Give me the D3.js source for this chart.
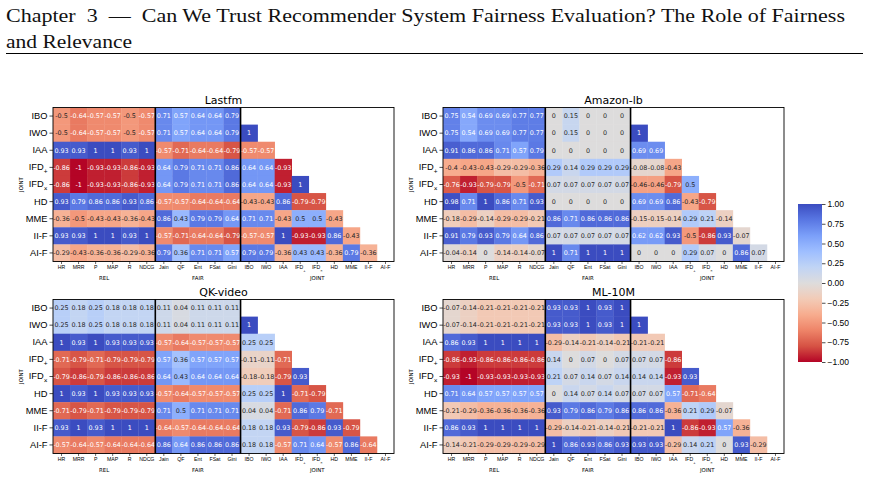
<!DOCTYPE html>
<html lang="en">
<head>
<meta charset="UTF-8">
<title>Correlation heatmaps</title>
<script src="https://cdn.jsdelivr.net/npm/d3@7"></script>
<style>
  body { margin: 0; background: #fff; }
  svg { display: block; font-family: "DejaVu Sans", sans-serif; }
</style>
</head>
<body>
<script>
var relCols = ["HR", "MRR", "P", "MAP", "R", "NDCG"];
var fairCols = ["Jain", "QF", "Ent", "FSat", "Gini"];
var jointCols = ["IBO", "IWO", "IAA", "IFD+", "IFDx", "HD", "MME", "II-F", "AI-F"];
var colorTicks = [1, 0.75, 0.5, 0.25, 0, -0.25, -0.5, -0.75, -1];
// coolwarm samples, reversed so +1 is blue
var coolwarm = ["#3b4cc0", "#5977e3", "#7b9ff9", "#9ebeff", "#c0d4f5", "#dddcdc",
                "#f2cbb7", "#f7ac8e", "#ee8468", "#d65244", "#b40426"];

var lastfmRel = [
  [-0.5, -0.64, -0.57, -0.57, -0.5, -0.57],
  [-0.5, -0.64, -0.57, -0.57, -0.5, -0.57],
  [0.93, 0.93, 1, 1, 0.93, 1],
  [-0.86, -1, -0.93, -0.93, -0.86, -0.93],
  [-0.86, -1, -0.93, -0.93, -0.86, -0.93],
  [0.93, 0.79, 0.86, 0.86, 0.93, 0.86],
  [-0.36, -0.5, -0.43, -0.43, -0.36, -0.43],
  [0.93, 0.93, 1, 1, 0.93, 1],
  [-0.29, -0.43, -0.36, -0.36, -0.29, -0.36]];
var lastfmFair = [
  [0.71, 0.57, 0.64, 0.64, 0.79],
  [0.71, 0.57, 0.64, 0.64, 0.79],
  [-0.57, -0.71, -0.64, -0.64, -0.79],
  [0.64, 0.79, 0.71, 0.71, 0.86],
  [0.64, 0.79, 0.71, 0.71, 0.86],
  [-0.57, -0.57, -0.64, -0.64, -0.64],
  [0.86, 0.43, 0.79, 0.79, 0.64],
  [-0.57, -0.71, -0.64, -0.64, -0.79],
  [0.79, 0.36, 0.71, 0.71, 0.57]];
var lastfmJoint = [
  [],
  [1],
  [-0.57, -0.57],
  [0.64, 0.64, -0.93],
  [0.64, 0.64, -0.93, 1],
  [-0.43, -0.43, 0.86, -0.79, -0.79],
  [0.71, 0.71, -0.43, 0.5, 0.5, -0.43],
  [-0.57, -0.57, 1, -0.93, -0.93, 0.86, -0.43],
  [0.79, 0.79, -0.36, 0.43, 0.43, -0.36, 0.79, -0.36]];

var amazonRel = [
  [0.75, 0.54, 0.69, 0.69, 0.77, 0.77],
  [0.75, 0.54, 0.69, 0.69, 0.77, 0.77],
  [0.91, 0.86, 0.86, 0.71, 0.57, 0.79],
  [-0.4, -0.43, -0.43, -0.29, -0.29, -0.36],
  [-0.76, -0.93, -0.79, -0.79, -0.5, -0.71],
  [0.98, 0.71, 1, 0.86, 0.71, 0.93],
  [-0.18, -0.29, -0.14, -0.29, -0.29, -0.21],
  [0.91, 0.79, 0.93, 0.79, 0.64, 0.86],
  [-0.04, -0.14, 0, -0.14, -0.14, -0.07]];
var amazonFair = [
  [0, 0.15, 0, 0, 0],
  [0, 0.15, 0, 0, 0],
  [0, 0, 0, 0, 0],
  [0.29, 0.14, 0.29, 0.29, 0.29],
  [0.07, 0.07, 0.07, 0.07, 0.07],
  [0, 0, 0, 0, 0],
  [0.86, 0.71, 0.86, 0.86, 0.86],
  [0.07, 0.07, 0.07, 0.07, 0.07],
  [1, 0.71, 1, 1, 1]];
var amazonJoint = [
  [],
  [1],
  [0.69, 0.69],
  [-0.08, -0.08, -0.43],
  [-0.46, -0.46, -0.79, 0.5],
  [0.69, 0.69, 0.86, -0.43, -0.79],
  [-0.15, -0.15, -0.14, 0.29, 0.21, -0.14],
  [0.62, 0.62, 0.93, -0.5, -0.86, 0.93, -0.07],
  [0, 0, 0, 0.29, 0.07, 0, 0.86, 0.07]];

var qkRel = [
  [0.25, 0.18, 0.25, 0.18, 0.18, 0.18],
  [0.25, 0.18, 0.25, 0.18, 0.18, 0.18],
  [1, 0.93, 1, 0.93, 0.93, 0.93],
  [-0.71, -0.79, -0.71, -0.79, -0.79, -0.79],
  [-0.79, -0.86, -0.79, -0.86, -0.86, -0.86],
  [1, 0.93, 1, 0.93, 0.93, 0.93],
  [-0.71, -0.79, -0.71, -0.79, -0.79, -0.79],
  [0.93, 1, 0.93, 1, 1, 1],
  [-0.57, -0.64, -0.57, -0.64, -0.64, -0.64]];
var qkFair = [
  [0.11, 0.04, 0.11, 0.11, 0.11],
  [0.11, 0.04, 0.11, 0.11, 0.11],
  [-0.57, -0.64, -0.57, -0.57, -0.57],
  [0.57, 0.36, 0.57, 0.57, 0.57],
  [0.64, 0.43, 0.64, 0.64, 0.64],
  [-0.57, -0.64, -0.57, -0.57, -0.57],
  [0.71, 0.5, 0.71, 0.71, 0.71],
  [-0.64, -0.57, -0.64, -0.64, -0.64],
  [0.86, 0.64, 0.86, 0.86, 0.86]];
var qkJoint = [
  [],
  [1],
  [0.25, 0.25],
  [-0.11, -0.11, -0.71],
  [-0.18, -0.18, -0.79, 0.93],
  [0.25, 0.25, 1, -0.71, -0.79],
  [0.04, 0.04, -0.71, 0.86, 0.79, -0.71],
  [0.18, 0.18, 0.93, -0.79, -0.86, 0.93, -0.79],
  [0.18, 0.18, -0.57, 0.71, 0.64, -0.57, 0.86, -0.64]];

var mlRel = [
  [-0.07, -0.14, -0.21, -0.21, -0.21, -0.21],
  [-0.07, -0.14, -0.21, -0.21, -0.21, -0.21],
  [0.86, 0.93, 1, 1, 1, 1],
  [-0.86, -0.93, -0.86, -0.86, -0.86, -0.86],
  [-0.93, -1, -0.93, -0.93, -0.93, -0.93],
  [0.71, 0.64, 0.57, 0.57, 0.57, 0.57],
  [-0.21, -0.29, -0.36, -0.36, -0.36, -0.36],
  [0.86, 0.93, 1, 1, 1, 1],
  [-0.14, -0.21, -0.29, -0.29, -0.29, -0.29]];
var mlFair = [
  [0.93, 0.93, 1, 0.93, 1],
  [0.93, 0.93, 1, 0.93, 1],
  [-0.29, -0.14, -0.21, -0.14, -0.21],
  [0.14, 0, 0.07, 0, 0.07],
  [0.21, 0.07, 0.14, 0.07, 0.14],
  [0, 0.14, 0.07, 0.14, 0.07],
  [0.93, 0.79, 0.86, 0.79, 0.86],
  [-0.29, -0.14, -0.21, -0.14, -0.21],
  [1, 0.86, 0.93, 0.86, 0.93]];
var mlJoint = [
  [],
  [1],
  [-0.21, -0.21],
  [0.07, 0.07, -0.86],
  [0.14, 0.14, -0.93, 0.93],
  [0.07, 0.07, 0.57, -0.71, -0.64],
  [0.86, 0.86, -0.36, 0.21, 0.29, -0.07],
  [-0.21, -0.21, 1, -0.86, -0.93, 0.57, -0.36],
  [0.93, 0.93, -0.29, 0.14, 0.21, 0, 0.93, -0.29]];

var panels = [
  {title: "Lastfm", rel: lastfmRel, fair: lastfmFair, joint: lastfmJoint, x: 53, y: 107.5},
  {title: "Amazon-lb", rel: amazonRel, fair: amazonFair, joint: amazonJoint, x: 443, y: 107.5},
  {title: "QK-video", rel: qkRel, fair: qkFair, joint: qkJoint, x: 53, y: 299.5},
  {title: "ML-10M", rel: mlRel, fair: mlFair, joint: mlJoint, x: 443, y: 299.5}
];

var W = 870, H = 482, pw = 341, ph = 154;
var allCols = relCols.concat(fairCols, jointCols);

var svg = d3.select("body").append("svg")
  .attr("width", W).attr("height", H);

// page header
svg.append("text").attr("x", 6).attr("y", 22)
  .attr("textLength", 839).attr("lengthAdjust", "spacingAndGlyphs")
  .style("font-family", "'Liberation Serif', serif").style("font-size", "19px")
  .style("white-space", "pre").attr("fill", "#111")
  .text("Chapter  3  —  Can We Trust Recommender System Fairness Evaluation? The Role of Fairness");
svg.append("text").attr("x", 6).attr("y", 48)
  .attr("textLength", 126).attr("lengthAdjust", "spacingAndGlyphs")
  .style("font-family", "'Liberation Serif', serif").style("font-size", "19px")
  .attr("fill", "#111")
  .text("and Relevance");
svg.append("line").attr("x1", 6).attr("x2", 863).attr("y1", 53.5).attr("y2", 53.5)
  .attr("stroke", "#000").attr("stroke-width", 1);

var color = d3.scaleLinear()
  .domain(d3.range(11).map(function(i) { return 1 - i * 0.2; }))
  .range(coolwarm)
  .interpolate(d3.interpolateRgb)
  .clamp(true);

function luminance(c) {
  var rgb = d3.rgb(c);
  function ch(v) { v /= 255; return v <= 0.03928 ? v / 12.92 : Math.pow((v + 0.055) / 1.055, 2.4); }
  return 0.2126 * ch(rgb.r) + 0.7152 * ch(rgb.g) + 0.0722 * ch(rgb.b);
}

// write IFD+ / IFDx with subscripts
function subLabel(sel, small) {
  sel.each(function(d) {
    var t = d3.select(this);
    if (d === "IFD+" || d === "IFDx") {
      t.text("IFD");
      t.append("tspan").attr("baseline-shift", "sub")
        .style("font-size", small)
        .text(d === "IFD+" ? "+" : "×");
    }
  });
}

panels.forEach(function(p) {
  var x = d3.scaleBand().domain(allCols).range([0, pw]);
  var y = d3.scaleBand().domain(jointCols).range([0, ph]);

  var cells = [];
  jointCols.forEach(function(row, i) {
    p.rel[i].forEach(function(v, j) { cells.push({row: row, col: relCols[j], v: v}); });
    p.fair[i].forEach(function(v, j) { cells.push({row: row, col: fairCols[j], v: v}); });
    p.joint[i].forEach(function(v, j) { cells.push({row: row, col: jointCols[j], v: v}); });
  });

  var g = svg.append("g").attr("transform", "translate(" + p.x + "," + p.y + ")");

  g.selectAll("rect.cell").data(cells).enter().append("rect")
    .attr("class", "cell")
    .attr("x", function(d) { return x(d.col); })
    .attr("y", function(d) { return y(d.row); })
    .attr("width", x.bandwidth() + 0.3)
    .attr("height", y.bandwidth() + 0.3)
    .attr("fill", function(d) { return color(d.v); });

  g.selectAll("text.val").data(cells).enter().append("text")
    .attr("class", "val")
    .attr("x", function(d) { return x(d.col) + x.bandwidth() / 2; })
    .attr("y", function(d) { return y(d.row) + y.bandwidth() / 2; })
    .attr("text-anchor", "middle").attr("dy", "0.35em")
    .style("font-size", "6.4px")
    .attr("fill", function(d) { return luminance(color(d.v)) > 0.408 ? "#262626" : "#fff"; })
    .text(function(d) { return String(d.v); });

  // frame + group separators
  g.append("rect").attr("width", pw).attr("height", ph)
    .attr("fill", "none").attr("stroke", "#000").attr("stroke-width", 0.9);
  [relCols.length, relCols.length + fairCols.length].forEach(function(k) {
    var sx = x(allCols[k]);
    g.append("line").attr("x1", sx).attr("x2", sx).attr("y1", 0).attr("y2", ph)
      .attr("stroke", "#000").attr("stroke-width", 1.6);
  });

  var ya = g.append("g").call(d3.axisLeft(y).tickSize(3.5).tickPadding(2));
  ya.select(".domain").remove();
  ya.selectAll("text").style("font-size", "9.3px").attr("fill", "#000").call(subLabel, "6.5px");
  ya.selectAll("line").attr("stroke", "#000").attr("stroke-width", 0.7);

  var xa = g.append("g").attr("transform", "translate(0," + ph + ")")
    .call(d3.axisBottom(x).tickSize(2.5).tickPadding(1.5));
  xa.select(".domain").remove();
  xa.selectAll("text").style("font-size", "5.2px").attr("fill", "#000").call(subLabel, "4px");
  xa.selectAll("line").attr("stroke", "#000").attr("stroke-width", 0.6);

  // group labels
  var groups = [
    {name: "REL", a: relCols[0], b: relCols[relCols.length - 1]},
    {name: "FAIR", a: fairCols[0], b: fairCols[fairCols.length - 1]},
    {name: "JOINT", a: jointCols[0], b: jointCols[jointCols.length - 1]}
  ];
  g.selectAll("text.grp").data(groups).enter().append("text")
    .attr("class", "grp")
    .attr("x", function(d) { return (x(d.a) + x(d.b) + x.bandwidth()) / 2; })
    .attr("y", ph + 18)
    .attr("text-anchor", "middle").style("font-size", "5.4px")
    .text(function(d) { return d.name; });

  g.append("text")
    .attr("transform", "translate(-30," + ph / 2 + ") rotate(-90)")
    .attr("text-anchor", "middle").style("font-size", "5.4px")
    .text("JOINT");

  g.append("text").attr("x", pw / 2).attr("y", -4)
    .attr("text-anchor", "middle").style("font-size", "11px")
    .text(p.title);
});

// colour bar
var cbX = 798, cbY = 204, cbW = 24, cbH = 158;
var cy = d3.scaleLinear().domain([1, -1]).range([0, cbH]);
var grad = svg.append("defs").append("linearGradient")
  .attr("id", "cbgrad").attr("x1", 0).attr("y1", 0).attr("x2", 0).attr("y2", 1);
grad.selectAll("stop").data(d3.range(0, 1.0001, 0.05)).enter().append("stop")
  .attr("offset", function(d) { return d; })
  .attr("stop-color", function(d) { return color(1 - 2 * d); });
var cb = svg.append("g").attr("transform", "translate(" + cbX + "," + cbY + ")");
cb.append("rect").attr("width", cbW).attr("height", cbH).attr("fill", "url(#cbgrad)");
var ca = cb.append("g").attr("transform", "translate(" + cbW + ",0)")
  .call(d3.axisRight(cy).tickValues(colorTicks).tickFormat(d3.format(".2f")).tickSize(3.5).tickPadding(2));
ca.select(".domain").remove();
ca.selectAll("text").style("font-size", "8.5px").attr("fill", "#000");
ca.selectAll("line").attr("stroke", "#000").attr("stroke-width", 0.7);
</script>
</body>
</html>
